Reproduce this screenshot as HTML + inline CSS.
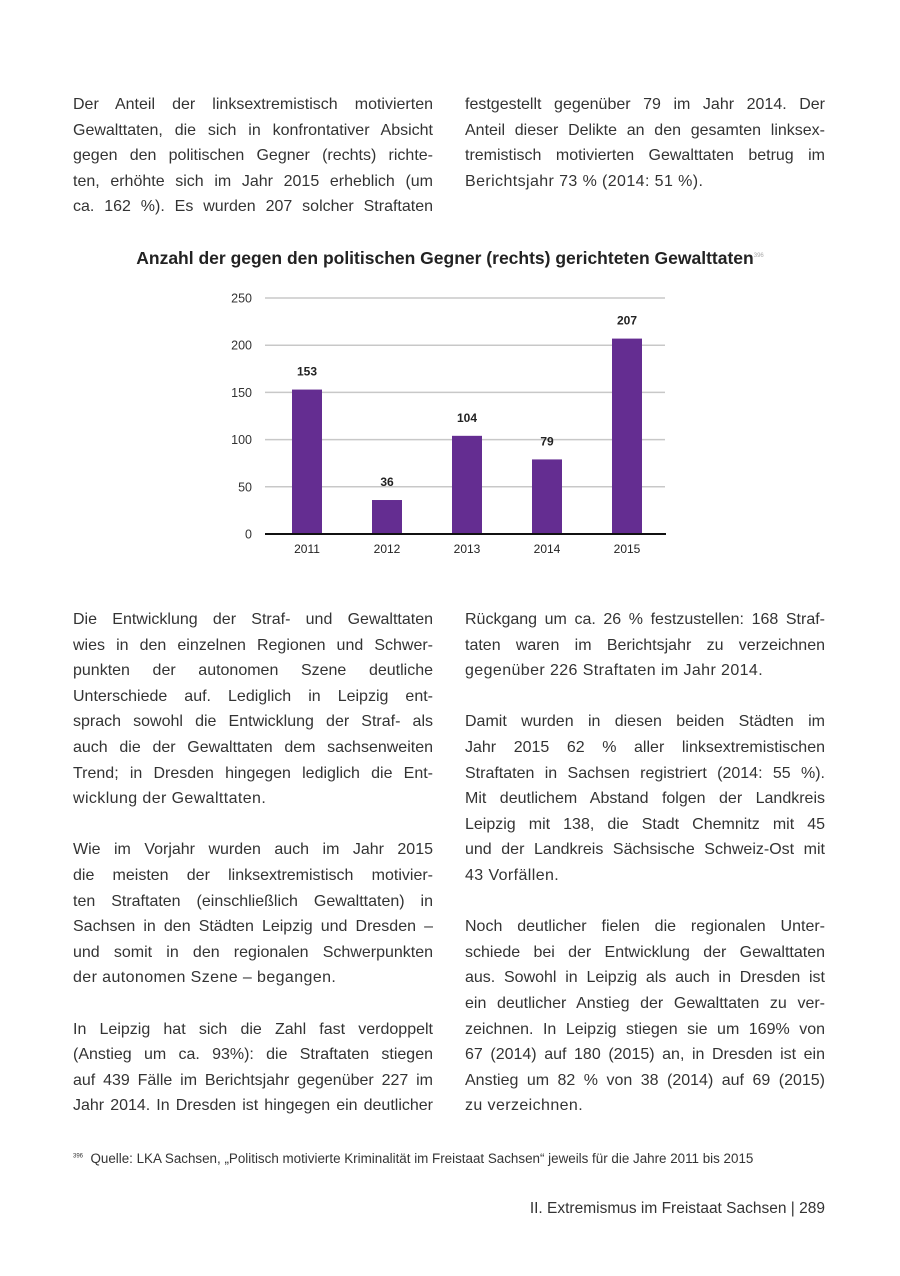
<!DOCTYPE html>
<html><head><meta charset="utf-8"><style>
body{margin:0;width:900px;height:1276px;background:#fff;position:relative;font-family:"Liberation Sans",sans-serif;color:#333;overflow:hidden}
.col{position:absolute;width:360px;font-size:16px;line-height:25.6px}
.col div{text-align:justify;text-align-last:justify;white-space:nowrap;height:25.6px}
.col div.l{text-align-last:left;letter-spacing:0.4px}
</style></head><body>
<div class="col" style="left:73px;top:92px">
<div>Der Anteil der linksextremistisch motivierten</div><div>Gewalttaten, die sich in konfrontativer Absicht</div><div>gegen den politischen Gegner (rechts) richte-</div><div>ten, erhöhte sich im Jahr 2015 erheblich (um</div><div>ca. 162 %). Es wurden 207 solcher Straftaten</div></div>
<div class="col" style="left:465px;top:92px">
<div>festgestellt gegenüber 79 im Jahr 2014. Der</div><div>Anteil dieser Delikte an den gesamten linksex-</div><div>tremistisch motivierten Gewalttaten betrug im</div><div class="l">Berichtsjahr 73 % (2014: 51 %).</div></div>
<div style="position:absolute;left:0;width:900px;top:248px;text-align:center;font-weight:bold;font-size:17.5px;color:#222">Anzahl der gegen den politischen Gegner (rechts) gerichteten Gewalttaten<sup style="font-size:6px;color:#aaa;font-weight:normal">396</sup></div>
<svg id="chart" style="position:absolute;left:0;top:0" width="900" height="580"></svg>
<div class="col" style="left:73px;top:607px">
<div>Die Entwicklung der Straf- und Gewalttaten</div><div>wies in den einzelnen Regionen und Schwer-</div><div>punkten der autonomen Szene deutliche</div><div>Unterschiede auf. Lediglich in Leipzig ent-</div><div>sprach sowohl die Entwicklung der Straf- als</div><div>auch die der Gewalttaten dem sachsenweiten</div><div>Trend; in Dresden hingegen lediglich die Ent-</div><div class="l">wicklung der Gewalttaten.</div><div></div>
<div>Wie im Vorjahr wurden auch im Jahr 2015</div><div>die meisten der linksextremistisch motivier-</div><div>ten Straftaten (einschließlich Gewalttaten) in</div><div>Sachsen in den Städten Leipzig und Dresden –</div><div>und somit in den regionalen Schwerpunkten</div><div class="l">der autonomen Szene – begangen.</div><div></div>
<div>In Leipzig hat sich die Zahl fast verdoppelt</div><div>(Anstieg um ca. 93%): die Straftaten stiegen</div><div>auf 439 Fälle im Berichtsjahr gegenüber 227 im</div><div>Jahr 2014. In Dresden ist hingegen ein deutlicher</div></div>
<div class="col" style="left:465px;top:607px">
<div>Rückgang um ca. 26 % festzustellen: 168 Straf-</div><div>taten waren im Berichtsjahr zu verzeichnen</div><div class="l">gegenüber 226 Straftaten im Jahr 2014.</div><div></div>
<div>Damit wurden in diesen beiden Städten im</div><div>Jahr 2015 62 % aller linksextremistischen</div><div>Straftaten in Sachsen registriert (2014: 55 %).</div><div>Mit deutlichem Abstand folgen der Landkreis</div><div>Leipzig mit 138, die Stadt Chemnitz mit 45</div><div>und der Landkreis Sächsische Schweiz-Ost mit</div><div class="l">43 Vorfällen.</div><div></div>
<div>Noch deutlicher fielen die regionalen Unter-</div><div>schiede bei der Entwicklung der Gewalttaten</div><div>aus. Sowohl in Leipzig als auch in Dresden ist</div><div>ein deutlicher Anstieg der Gewalttaten zu ver-</div><div>zeichnen. In Leipzig stiegen sie um 169% von</div><div>67 (2014) auf 180 (2015) an, in Dresden ist ein</div><div>Anstieg um 82 % von 38 (2014) auf 69 (2015)</div><div class="l">zu verzeichnen.</div></div>
<div style="position:absolute;left:73px;top:1151px;font-size:13.4px;color:#333"><sup style="font-size:6px">396</sup>&nbsp; Quelle: LKA Sachsen, „Politisch motivierte Kriminalität im Freistaat Sachsen“ jeweils für die Jahre 2011 bis 2015</div>
<div style="position:absolute;right:75px;top:1200px;font-size:15.5px;color:#333">II. Extremismus im Freistaat Sachsen | 289</div>
<script>
const categories=["2011","2012","2013","2014","2015"];
const values=[153,36,104,79,207];
const ticks=[0,50,100,150,200,250];
const svg=document.getElementById('chart');
const NS='http://www.w3.org/2000/svg';
const y=v=>534-v*(236/250);
const x=i=>307+i*80;
function mk(t,a,txt){const e=document.createElementNS(NS,t);for(const k in a)e.setAttribute(k,a[k]);if(txt!=null)e.textContent=txt;svg.appendChild(e);return e;}
ticks.forEach(t=>{
 if(t>0){const l=mk('line',{x1:265,x2:665,y1:y(t),y2:y(t),stroke:'#c8c8c8','stroke-width':1.5});
 
 }
 const tx=mk('text',{x:252,y:y(t)+4.5,'text-anchor':'end','font-size':12.5,fill:'#333','font-family':'Liberation Sans'},t);
 
 
});
categories.forEach((c,i)=>{
 const r=mk('rect',{x:x(i)-15,y:y(values[i]),width:30,height:534-y(values[i]),fill:'#642d91'});
 
 
 const v=mk('text',{x:x(i),y:y(values[i])-14,'text-anchor':'middle','font-size':12,'font-weight':'bold',fill:'#222','font-family':'Liberation Sans'},values[i]);
 
 
 const t=mk('text',{x:x(i),y:553,'text-anchor':'middle','font-size':12,fill:'#222','font-family':'Liberation Sans'},c);
 
 
});
const ax=mk('line',{x1:265,x2:666,y1:534,y2:534,stroke:'#111','stroke-width':2});


</script>
</body></html>
